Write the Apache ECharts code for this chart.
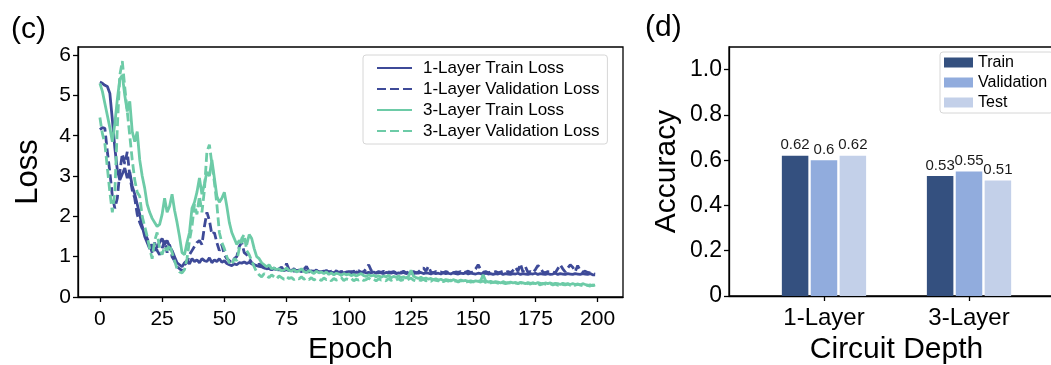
<!DOCTYPE html>
<html>
<head>
<meta charset="utf-8">
<script src="https://cdn.jsdelivr.net/npm/echarts@6/dist/echarts.min.js"></script>
<style>
  html, body { margin: 0; padding: 0; background: #fff; }
  #chart { width: 1051px; height: 365px; }
</style>
</head>
<body>
<div id="chart"></div>
<script>
// ---- (c) training curves: loss per epoch (epochs 0..199) ----
const train1Layer = [
  5.33, 5.30, 5.25, 5.22, 5.05, 4.40, 3.70, 3.15, 2.90, 3.05,
  3.20, 2.95, 3.10, 2.75, 2.55, 2.30, 2.05, 1.75, 1.50, 1.35,
  1.20, 1.30, 1.15, 1.25, 1.35, 1.45, 1.30, 1.40, 1.25, 1.15,
  1.00, 0.85, 0.80, 0.75, 0.85, 0.90, 0.82, 0.95, 0.88, 0.92,
  0.85, 0.95, 0.90, 0.88, 0.97, 0.85, 0.92, 0.88, 0.95, 0.86,
  0.90, 0.83, 0.80, 0.78, 0.82, 0.80, 0.85, 0.84, 0.87, 0.83,
  0.86, 0.82, 0.80, 0.78, 0.76, 0.75, 0.72, 0.70, 0.71, 0.68,
  0.70, 0.68, 0.67, 0.69, 0.66, 0.68, 0.65, 0.67, 0.64, 0.66,
  0.65, 0.63, 0.66, 0.64, 0.62, 0.65, 0.63, 0.64, 0.62, 0.63,
  0.64, 0.61, 0.63, 0.62, 0.60, 0.63, 0.61, 0.62, 0.60, 0.62,
  0.61, 0.63, 0.60, 0.62, 0.61, 0.59, 0.62, 0.60, 0.61, 0.60,
  0.62, 0.59, 0.61, 0.60, 0.58, 0.61, 0.60, 0.59, 0.61, 0.58,
  0.60, 0.59, 0.61, 0.58, 0.60, 0.59, 0.58, 0.60, 0.59, 0.61,
  0.58, 0.60, 0.59, 0.57, 0.60, 0.58, 0.59, 0.57, 0.60, 0.58,
  0.59, 0.57, 0.60, 0.58, 0.57, 0.59, 0.58, 0.60, 0.57, 0.59,
  0.58, 0.57, 0.59, 0.58, 0.56, 0.59, 0.57, 0.58, 0.56, 0.58,
  0.57, 0.59, 0.56, 0.58, 0.57, 0.56, 0.58, 0.57, 0.59, 0.56,
  0.58, 0.57, 0.56, 0.58, 0.57, 0.59, 0.56, 0.58, 0.57, 0.56,
  0.58, 0.56, 0.57, 0.59, 0.56, 0.58, 0.57, 0.56, 0.58, 0.57,
  0.56, 0.58, 0.57, 0.56, 0.58, 0.57, 0.56, 0.58, 0.55, 0.55
];
const val1Layer = [
  4.15, 4.20, 4.18, 3.60, 3.10, 2.50, 2.20, 2.45, 3.10, 3.55,
  3.30, 3.60, 3.00, 2.65, 2.45, 2.05, 1.85, 1.70, 1.60, 1.45,
  1.30, 1.10, 1.35, 1.15, 1.05, 1.20, 1.40, 1.10, 1.30, 1.00,
  0.90, 0.75, 0.70, 0.65, 0.80, 0.85, 1.05, 1.15, 1.25, 1.35,
  1.40, 1.30, 1.75, 2.10, 1.90, 1.55, 1.60, 1.35, 1.15, 1.30,
  1.05, 0.95, 0.90, 0.85, 0.95, 1.00, 1.25, 1.35, 1.10, 1.05,
  0.95, 0.85, 0.80, 0.75, 0.82, 0.78, 0.72, 0.76, 0.70, 0.68,
  0.72, 0.66, 0.70, 0.74, 0.65, 0.83, 0.68, 0.66, 0.70, 0.64,
  0.67, 0.65, 0.69, 0.76, 0.64, 0.66, 0.63, 0.67, 0.62, 0.65,
  0.63, 0.66, 0.61, 0.64, 0.62, 0.65, 0.60, 0.63, 0.64, 0.61,
  0.63, 0.60, 0.64, 0.62, 0.65, 0.61, 0.63, 0.70, 0.80, 0.66,
  0.62, 0.60, 0.63, 0.61, 0.64, 0.60, 0.62, 0.61, 0.63, 0.60,
  0.62, 0.61, 0.64, 0.60, 0.62, 0.61, 0.63, 0.60, 0.62, 0.68,
  0.72, 0.64, 0.76, 0.62, 0.60, 0.63, 0.61, 0.62, 0.60, 0.63,
  0.61, 0.64, 0.60, 0.62, 0.61, 0.63, 0.60, 0.62, 0.64, 0.61,
  0.62, 0.70, 0.80, 0.68, 0.61, 0.63, 0.60, 0.62, 0.61, 0.63,
  0.60, 0.62, 0.64, 0.61, 0.63, 0.60, 0.66, 0.74, 0.64, 0.82,
  0.62, 0.75, 0.61, 0.63, 0.60, 0.68, 0.78, 0.72, 0.62, 0.60,
  0.63, 0.61, 0.62, 0.60, 0.70, 0.80, 0.70, 0.62, 0.72, 0.80,
  0.74, 0.63, 0.78, 0.66, 0.62, 0.64, 0.61, 0.60, 0.58, 0.57
];
const train3Layer = [
  5.30, 5.10, 4.80, 4.50, 4.20, 3.85, 4.30, 4.90, 5.40, 5.50,
  5.00, 4.60, 4.85, 4.10, 3.85, 4.10, 3.40, 3.00, 2.70, 2.30,
  2.10, 1.95, 1.85, 1.75, 1.80, 2.05, 2.45, 2.10, 2.25, 2.55,
  2.15, 1.85, 1.50, 1.10, 1.05, 1.35, 1.60, 2.20, 2.35, 2.60,
  2.95, 2.55, 2.80, 3.10, 3.00, 3.40, 2.95, 2.50, 2.35, 2.45,
  2.60, 2.25, 1.85, 1.60, 1.45, 1.30, 1.40, 1.35, 1.45, 1.30,
  1.55, 1.45, 1.20, 1.00, 0.95, 0.85, 0.80, 0.75, 0.80, 0.70,
  0.72, 0.68, 0.70, 0.65, 0.67, 0.72, 0.66, 0.64, 0.68, 0.62,
  0.65, 0.70, 0.63, 0.60, 0.66, 0.62, 0.58, 0.64, 0.60, 0.62,
  0.58, 0.62, 0.56, 0.60, 0.55, 0.59, 0.57, 0.54, 0.58, 0.55,
  0.57, 0.53, 0.56, 0.52, 0.55, 0.58, 0.53, 0.51, 0.55, 0.52,
  0.54, 0.50, 0.53, 0.49, 0.52, 0.50, 0.54, 0.48, 0.51, 0.49,
  0.52, 0.48, 0.50, 0.47, 0.51, 0.66, 0.52, 0.48, 0.46, 0.49,
  0.45, 0.47, 0.44, 0.46, 0.43, 0.45, 0.42, 0.44, 0.41, 0.43,
  0.42, 0.40, 0.43, 0.41, 0.39, 0.42, 0.40, 0.41, 0.39, 0.40,
  0.38, 0.40, 0.39, 0.41, 0.55, 0.40, 0.37, 0.39, 0.36, 0.38,
  0.37, 0.35, 0.38, 0.36, 0.34, 0.37, 0.35, 0.36, 0.34, 0.36,
  0.35, 0.33, 0.36, 0.34, 0.35, 0.33, 0.36, 0.34, 0.32, 0.35,
  0.33, 0.35, 0.32, 0.34, 0.33, 0.31, 0.34, 0.32, 0.33, 0.31,
  0.33, 0.31, 0.32, 0.30, 0.33, 0.31, 0.29, 0.30, 0.28, 0.30
];
const val3Layer = [
  4.45, 4.05, 3.80, 3.20, 2.60, 2.10, 2.60, 4.20, 5.50, 5.85,
  5.20, 4.60, 4.00, 3.40, 2.90, 2.60, 2.50, 2.00, 1.75, 1.50,
  1.20, 0.95, 1.40, 1.60, 1.20, 1.05, 1.25, 1.15, 1.30, 1.10,
  0.90, 0.70, 0.62, 0.60, 0.68, 0.95, 1.40, 1.75, 2.30, 2.05,
  2.50, 2.10, 2.65, 3.60, 3.78, 3.30, 2.85, 2.30, 1.60, 1.35,
  1.20, 1.00, 0.85, 0.80, 0.95, 0.90, 1.20, 1.45, 1.55, 1.15,
  1.05, 0.90, 0.75, 0.62, 0.55, 0.50, 0.58, 0.52, 0.48, 0.55,
  0.50, 0.45, 0.52, 0.48, 0.44, 0.50, 0.46, 0.48, 0.43, 0.47,
  0.45, 0.50, 0.44, 0.47, 0.43, 0.48, 0.42, 0.46, 0.44, 0.41,
  0.47, 0.43, 0.45, 0.40, 0.46, 0.42, 0.44, 0.48, 0.41, 0.45,
  0.43, 0.46, 0.40, 0.44, 0.42, 0.45, 0.41, 0.43, 0.47, 0.42,
  0.44, 0.40, 0.45, 0.42, 0.43, 0.40, 0.46, 0.41, 0.44, 0.42,
  0.45, 0.41, 0.43, 0.40, 0.44, 0.47, 0.42, 0.40, 0.43, 0.41,
  0.44, 0.40, 0.42, 0.39, 0.43, 0.41, 0.40, 0.42, 0.38, 0.41,
  0.39, 0.42, 0.38, 0.40, 0.37, 0.41, 0.38, 0.36, 0.39, 0.37,
  0.38, 0.36, 0.39, 0.37, 0.40, 0.36, 0.38, 0.35, 0.37, 0.36,
  0.34, 0.37, 0.35, 0.33, 0.36, 0.34, 0.32, 0.35, 0.33, 0.36,
  0.33, 0.31, 0.34, 0.32, 0.35, 0.31, 0.33, 0.30, 0.34, 0.32,
  0.31, 0.33, 0.30, 0.32, 0.29, 0.33, 0.31, 0.30, 0.32, 0.29,
  0.31, 0.29, 0.32, 0.30, 0.28, 0.31, 0.29, 0.27, 0.30, 0.28
];
const lossSeriesNames = ['1-Layer Train Loss', '1-Layer Validation Loss', '3-Layer Train Loss', '3-Layer Validation Loss'];
const epochTicks = [0, 25, 50, 75, 100, 125, 150, 175, 200];
const lossTicks = [0, 1, 2, 3, 4, 5, 6];

// ---- (d) accuracy by circuit depth ----
const depthLabels = ['1-Layer', '3-Layer'];
const trainAcc = [0.62, 0.53];
const validationAcc = [0.6, 0.55];
const testAcc = [0.62, 0.51];
const accSeriesNames = ['Train', 'Validation', 'Test'];
const accTicks = [0, 0.2, 0.4, 0.6, 0.8, 1.0];

const FONT = "'Liberation Sans', Arial, Helvetica, sans-serif";
const NAVY = '#3e4a98';
const MINT = '#6dcba7';
const BAR_COLORS = ['#34507f', '#91acdd', '#c3d0e9'];

const toPoints = arr => arr.map((v, i) => [i, v]);
const depthIndex = depthLabels.map((_, i) => i);
const toBars = arr => arr.map((v, i) => [depthIndex[i], v]);

const lineStyleFor = (color, dashed) => ({
  color: color,
  width: 2.8,
  type: dashed ? [9, 4] : 'solid'
});

const lossSeries = [train1Layer, val1Layer, train3Layer, val3Layer].map((arr, k) => ({
  name: lossSeriesNames[k],
  type: 'line',
  xAxisIndex: 0,
  yAxisIndex: 0,
  data: toPoints(arr),
  symbol: 'none',
  color: k < 2 ? NAVY : MINT,
  lineStyle: lineStyleFor(k < 2 ? NAVY : MINT, k % 2 === 1),
  animation: false
}));

const barSeries = [trainAcc, validationAcc, testAcc].map((arr, k) => ({
  name: accSeriesNames[k],
  type: 'bar',
  xAxisIndex: 1,
  yAxisIndex: 1,
  data: toBars(arr),
  barWidth: 26.5,
  barGap: '9%',
  itemStyle: { color: BAR_COLORS[k] },
  label: {
    show: true,
    position: 'top',
    distance: 3,
    fontFamily: FONT,
    fontSize: 15,
    color: '#1a1a1a',
    formatter: p => String(p.value[1])
  },
  animation: false
}));

const axisLineStyle = { onZero: false, lineStyle: { color: '#000', width: 1.3 } };
const tickStyle = { show: true, inside: false, length: 5, lineStyle: { color: '#000', width: 1.3 } };

const option = {
  backgroundColor: '#fff',
  textStyle: { fontFamily: FONT },
  title: [
    { text: '(c)', left: 11, top: 15, padding: 0, textStyle: { fontFamily: FONT, fontSize: 30, fontWeight: 'normal', color: '#000' } },
    { text: '(d)', left: 645, top: 13, padding: 0, textStyle: { fontFamily: FONT, fontSize: 30, fontWeight: 'normal', color: '#000' } }
  ],
  grid: [
    { left: 78, top: 47, right: 428, bottom: 68, outerBoundsMode: 'none', show: true, borderColor: '#000', borderWidth: 1.3, backgroundColor: 'transparent' },
    { left: 729, top: 47, right: -13, bottom: 69, outerBoundsMode: 'none', show: true, borderColor: '#000', borderWidth: 1.3, backgroundColor: 'transparent' }
  ],
  xAxis: [
    {
      type: 'value', gridIndex: 0, min: -8.8, max: 210.2,
      name: 'Epoch', nameLocation: 'middle', nameGap: 33,
      nameTextStyle: { fontFamily: FONT, fontSize: 30, color: '#000' },
      axisLine: axisLineStyle,
      axisTick: Object.assign({ customValues: epochTicks }, tickStyle),
      axisLabel: { customValues: epochTicks, fontFamily: FONT, fontSize: 21, color: '#000', margin: 12 },
      splitLine: { show: false }
    },
    {
      type: 'value', gridIndex: 1, min: -0.655, max: 1.655,
      name: 'Circuit Depth', nameLocation: 'middle', nameGap: 35,
      nameTextStyle: { fontFamily: FONT, fontSize: 30, color: '#000' },
      axisLine: axisLineStyle,
      axisTick: Object.assign({ customValues: depthIndex }, tickStyle),
      axisLabel: {
        customValues: depthIndex, fontFamily: FONT, fontSize: 24, color: '#000', margin: 10,
        formatter: v => depthLabels[Math.round(v)]
      },
      splitLine: { show: false }
    }
  ],
  yAxis: [
    {
      type: 'value', gridIndex: 0, min: 0, max: 6.2,
      name: 'Loss', nameLocation: 'middle', nameGap: 34, nameRotate: 90,
      nameTextStyle: { fontFamily: FONT, fontSize: 31, color: '#000' },
      axisLine: axisLineStyle,
      axisTick: Object.assign({ customValues: lossTicks }, tickStyle),
      axisLabel: { customValues: lossTicks, fontFamily: FONT, fontSize: 21, color: '#000', margin: 7 },
      splitLine: { show: false }
    },
    {
      type: 'value', gridIndex: 1, min: 0, max: 1.1,
      name: 'Accuracy', nameLocation: 'middle', nameGap: 47, nameRotate: 90,
      nameTextStyle: { fontFamily: FONT, fontSize: 30, color: '#000' },
      axisLine: axisLineStyle,
      axisTick: Object.assign({ customValues: accTicks }, tickStyle),
      axisLabel: {
        customValues: accTicks, fontFamily: FONT, fontSize: 23, color: '#000', margin: 7,
        formatter: v => (v === 0 ? '0' : v.toFixed(1))
      },
      splitLine: { show: false }
    }
  ],
  legend: [
    {
      data: lossSeriesNames,
      orient: 'vertical',
      left: 363, top: 55,
      padding: [4, 8, 4, 13],
      itemWidth: 35, itemHeight: 14, itemGap: 3,
      itemStyle: { color: 'rgba(0,0,0,0)', borderWidth: 0 },
      borderColor: '#d6d6d6', borderWidth: 1, borderRadius: 3,
      backgroundColor: 'rgba(255,255,255,0.85)',
      textStyle: { fontFamily: FONT, fontSize: 17, color: '#000', lineHeight: 18, padding: [0, 0, 0, 6] }
    },
    {
      data: accSeriesNames,
      orient: 'vertical',
      left: 940, top: 52,
      padding: [2, 6, 2, 4],
      icon: 'rect',
      itemWidth: 29, itemHeight: 10, itemGap: 3,
      borderColor: '#d6d6d6', borderWidth: 1, borderRadius: 3,
      backgroundColor: 'rgba(255,255,255,0.85)',
      textStyle: { fontFamily: FONT, fontSize: 16, color: '#000', lineHeight: 17 }
    }
  ],
  series: lossSeries.concat(barSeries)
};

const chart = echarts.init(document.getElementById('chart'), null, { renderer: 'canvas' });
chart.setOption(option);
</script>
</body>
</html>
